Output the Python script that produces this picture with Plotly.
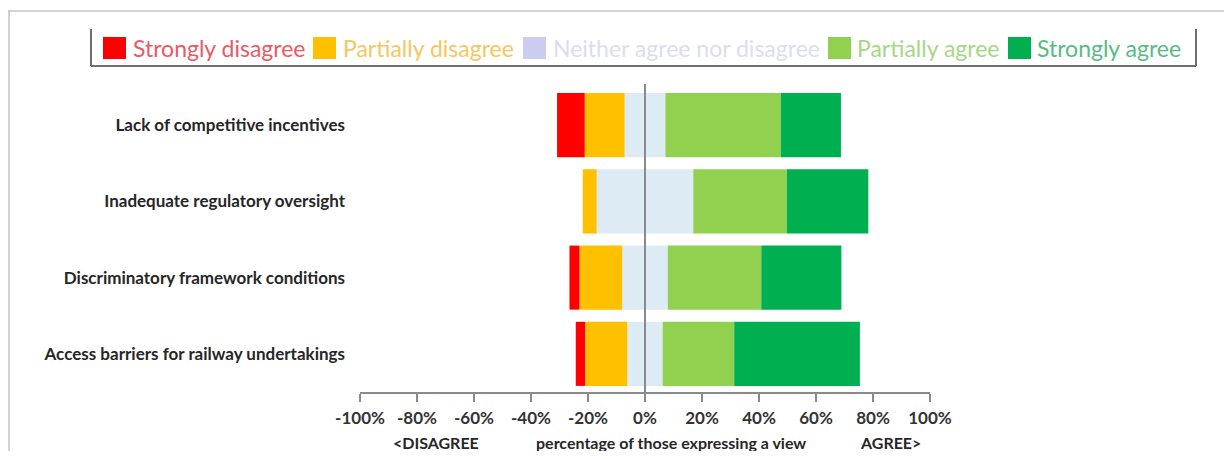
"""Diverging stacked bar chart: views on railway market barriers"""

import plotly.graph_objects as go

categories = [
    "Lack of competitive incentives",
    "Inadequate regulatory oversight",
    "Discriminatory framework conditions",
    "Access barriers for railway undertakings",
]
strongly_disagree = [9.7, 0.0, 3.5, 3.3]
partially_disagree = [14.0, 4.9, 15.0, 14.8]
neither = [14.3, 33.9, 16.0, 12.4]
partially_agree = [40.5, 32.8, 32.8, 25.1]
strongly_agree = [21.1, 28.6, 28.1, 44.1]

x_ticks = [-100, -80, -60, -40, -20, 0, 20, 40, 60, 80, 100]
x_tick_labels = [f"{v}%" for v in x_ticks]

legend_names = ["Strongly disagree", "Partially disagree", "Neither agree nor disagree",
                "Partially agree", "Strongly agree"]
legend_box_colors = ["#ff0000", "#ffc000", "#ccccf2", "#92d050", "#00b050"]
legend_text_colors = ["#ec5866", "#f7c65e", "#dcdcf3", "#a6d884", "#57bb86"]

RED, ORANGE, NEUTRAL, LGREEN, DGREEN = "#ff0000", "#ffc000", "#ddebf4", "#92d050", "#00b050"

# page offset (body margin) and plot area in page pixels
OFF = 8
W, H = 1224, 443
PL, PR, PT, PB = 360, 930, 87, 392


def px(x):
    return (x - PL) / (PR - PL)


def py(y):
    return (PB - y) / (PB - PT)


fig = go.Figure()

# left side, stacked outward from zero
half = [n / 2 for n in neither]
for vals, color in [(half, NEUTRAL), (partially_disagree, ORANGE), (strongly_disagree, RED)]:
    fig.add_trace(go.Bar(
        y=categories, x=[-v for v in vals], orientation="h",
        marker=dict(color=color, line_width=0), showlegend=False,
    ))
# right side
for vals, color in [(half, NEUTRAL), (partially_agree, LGREEN), (strongly_agree, DGREEN)]:
    fig.add_trace(go.Bar(
        y=categories, x=vals, orientation="h",
        marker=dict(color=color, line_width=0), showlegend=False,
    ))

shapes = []
# zero line over the bars
shapes.append(dict(type="line", xref="x", yref="paper", x0=0, x1=0, y0=0, y1=py(84),
                   line=dict(color="#8a8a8a", width=2), layer="above"))
# slide frame
shapes.append(dict(type="line", xref="paper", yref="paper", x0=px(8), x1=px(1240),
                   y0=py(11), y1=py(11), line=dict(color="#c4c4c4", width=1.5)))
shapes.append(dict(type="line", xref="paper", yref="paper", x0=px(9), x1=px(9),
                   y0=py(10), y1=py(470), line=dict(color="#c4c4c4", width=1.5)))
# legend box (left, bottom, right edges)
box_l, box_r, box_t, box_b = 91, 1196, 29, 66
for x0, y0, x1, y1 in [(box_l, box_t, box_l, box_b), (box_l, box_b, box_r, box_b),
                       (box_r, box_t, box_r, box_b)]:
    shapes.append(dict(type="line", xref="paper", yref="paper", x0=px(x0), x1=px(x1),
                       y0=py(y0), y1=py(y1), line=dict(color="#6e6e6e", width=2)))

annotations = []
sq_x = [103, 313, 523, 828, 1008]
txt_x = [131, 341, 551, 855, 1035]
for name, bc, tc, sx, tx in zip(legend_names, legend_box_colors, legend_text_colors, sq_x, txt_x):
    shapes.append(dict(type="rect", xref="paper", yref="paper", x0=px(sx), x1=px(sx + 23),
                       y0=py(59), y1=py(37), fillcolor=bc, line_width=0))
    annotations.append(dict(text=name, xref="paper", yref="paper", x=px(tx), y=py(48),
                            xanchor="left", yanchor="middle", showarrow=False,
                            font=dict(family="Lato", size=23, color=tc)))

# axis title under the tick labels
for text, cx in [("&lt;DISAGREE", 436), ("percentage of those expressing a view", 671),
                 ("AGREE&gt;", 890)]:
    annotations.append(dict(text=f"<b>{text}</b>", xref="paper", yref="paper", x=px(cx), y=py(442),
                            xanchor="center", yanchor="middle", showarrow=False,
                            font=dict(family="Lato", size=16, color="#262626")))

fig.update_layout(
    width=W, height=H,
    margin=dict(l=PL - OFF, r=W - (PR - OFF), t=PT - OFF, b=H - (PB - OFF), pad=0),
    barmode="relative",
    bargap=0.16,
    plot_bgcolor="white",
    paper_bgcolor="white",
    showlegend=False,
    shapes=shapes,
    annotations=annotations,
    xaxis=dict(
        range=[-100, 100], tickvals=x_ticks, ticktext=[f"<b>{t}</b>" for t in x_tick_labels],
        showgrid=False, zeroline=False, showline=True, linecolor="#8a8a8a", linewidth=2,
        ticks="outside", ticklen=8, tickwidth=2, tickcolor="#8a8a8a",
        ticklabelstandoff=2,
        tickfont=dict(family="Lato", size=17, color="#333333"),
    ),
    yaxis=dict(
        categoryorder="array", categoryarray=categories, autorange="reversed",
        showgrid=False, zeroline=False, showline=False, ticks="",
        ticklabelstandoff=14,
        tickfont=dict(family="Lato", size=17, color="#262626", weight="bold"),
    ),
)

fig.write_html("out.html")
